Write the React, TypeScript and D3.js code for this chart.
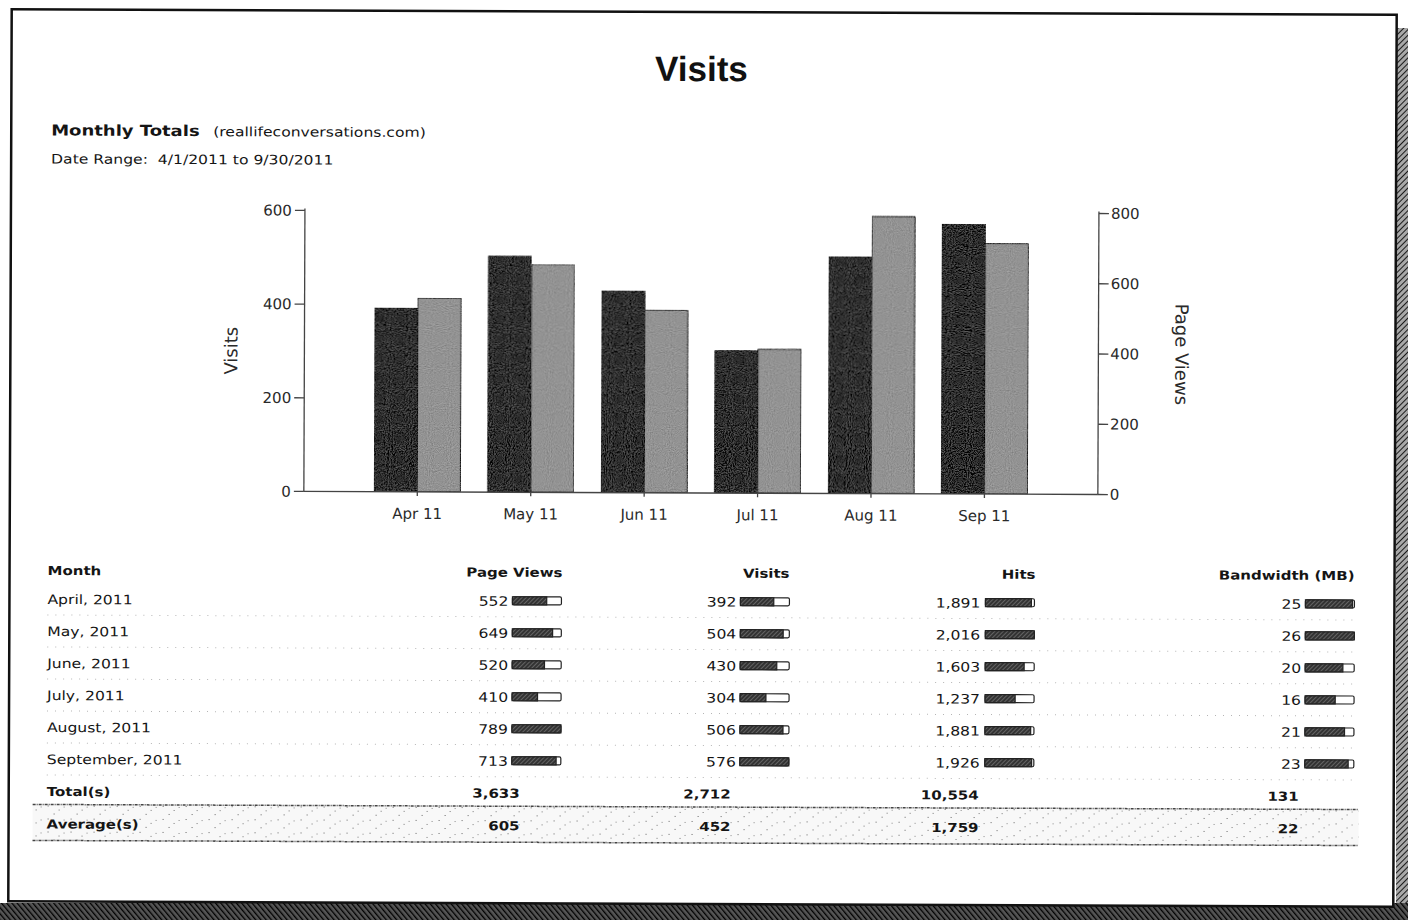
import React from 'react';
import * as d3 from 'd3';

// chart data
const months = ['Apr 11', 'May 11', 'Jun 11', 'Jul 11', 'Aug 11', 'Sep 11'];
const visits = [392, 504, 430, 304, 506, 576];
const pageViews = [552, 649, 520, 410, 789, 713];

// table data
const monthNames = ['April, 2011', 'May, 2011', 'June, 2011', 'July, 2011', 'August, 2011', 'September, 2011'];
const hits = [1891, 2016, 1603, 1237, 1881, 1926];
const bandwidth = [25, 26, 20, 16, 21, 23];
const columnNames = ['Page Views', 'Visits', 'Hits', 'Bandwidth (MB)'];
const averages = ['605', '452', '1,759', '22'];

const leftTicks = [0, 200, 400, 600];
const rightTicks = [0, 200, 400, 600, 800];

const W = 1408;
const H = 920;
const body = '"DejaVu Sans", Verdana, sans-serif';
const SX = 1.2;

const Txt = ({ x, y, children, anchor = 'start', size = 13, bold = false, sx = SX, fill = '#151515' }: any) => (
    <text transform={`translate(${x},${y}) scale(${sx},1)`} textAnchor={anchor} fontSize={size}
          fontWeight={bold ? 'bold' : 'normal'} fontFamily={body} fill={fill}>{children}</text>
);

export default function App() {
    const plot = { l: 304, r: 1098, t: 212, b: 493 };
    const barW = 43;

    const x = d3.scalePoint<string>().domain(months).range([plot.l, plot.r]).padding(1);
    const yL = d3.scaleLinear().domain([0, 600]).range([plot.b, plot.t]);
    const yR = d3.scaleLinear().domain([0, 800]).range([plot.b, plot.t]);

    // table layout
    const cols = [
        { values: pageViews, numRight: 509, barX: 513, headRight: 563, sumRight: 521 },
        { values: visits, numRight: 737, barX: 741, headRight: 790, sumRight: 732 },
        { values: hits, numRight: 981, barX: 986, headRight: 1036, sumRight: 980 },
        { values: bandwidth, numRight: 1302, barX: 1306, headRight: 1355, sumRight: 1300 },
    ];
    const miniW = 49;
    const miniH = 8;
    const headY = 577.5;
    const rowY0 = 606.5;
    const rowStep = 32;
    const totalY = rowY0 + rowStep * monthNames.length;
    const avgY = totalY + 32.5;
    const fmt = d3.format(',');

    return (
        <svg width={W} height={H} style={{ position: 'absolute', left: 0, top: 0, background: '#fff' }}>
            <defs>
                <pattern id="hatch" width="4" height="4" patternUnits="userSpaceOnUse" patternTransform="rotate(45)">
                    <rect width="4" height="4" fill="#a8a8a8"/>
                    <line x1="0" y1="0" x2="0" y2="4" stroke="#1a1a1a" strokeWidth="2"/>
                </pattern>
                <pattern id="hatchDark" width="4" height="4" patternUnits="userSpaceOnUse" patternTransform="rotate(-40)">
                    <rect width="4" height="4" fill="#555"/>
                    <line x1="0" y1="0" x2="0" y2="4" stroke="#000" strokeWidth="2.6"/>
                </pattern>
                <pattern id="mini" width="3" height="3" patternUnits="userSpaceOnUse" patternTransform="rotate(45)">
                    <rect width="3" height="3" fill="#333"/>
                    <line x1="0" y1="0" x2="0" y2="3" stroke="#aaa" strokeWidth="0.8"/>
                </pattern>
                <pattern id="speckle" width="23" height="13" patternUnits="userSpaceOnUse">
                    <rect width="23" height="13" fill="#f8f8f8"/>
                    <rect x="3" y="2" width="1" height="1" fill="#666"/>
                    <rect x="14" y="6" width="1" height="1" fill="#777"/>
                    <rect x="9" y="10" width="1" height="1" fill="#666"/>
                    <rect x="19" y="3" width="1" height="1" fill="#888"/>
                </pattern>
                <filter id="grain" x="0" y="0" width="1" height="1">
                    <feTurbulence type="fractalNoise" baseFrequency="0.95" numOctaves="1" seed="3" result="n"/>
                    <feColorMatrix in="n" type="matrix"
                                   values="0.33 0.33 0.33 0 0  0.33 0.33 0.33 0 0  0.33 0.33 0.33 0 0  0 0 0 0 1" result="g"/>
                    <feComposite in="SourceGraphic" in2="g" operator="arithmetic" k1="0" k2="1" k3="0.55" k4="-0.27" result="c"/>
                    <feComposite in="c" in2="SourceGraphic" operator="in"/>
                </filter>
            </defs>

            {/* scanner shadow */}
            <rect x={1396} y={28} width={12} height={H - 28} fill="url(#hatch)"/>
            <rect x={0} y={903} width={W} height={H - 903} fill="url(#hatchDark)"/>

            <g transform="rotate(0.22 703 456)">
                <rect x={10} y={12} width={1385} height={892} fill="#fff" stroke="#111" strokeWidth={2.5}/>

                <text x={700} y={81} textAnchor="middle" fontFamily='"Liberation Sans", Arial, sans-serif'
                      fontWeight="bold" fontSize={35} fill="#111">Visits</text>

                <Txt x={50} y={138} size={15} bold>Monthly Totals</Txt>
                <Txt x={212} y={138} size={13}>(reallifeconversations.com)</Txt>
                <Txt x={50} y={166} size={13}>{'Date Range:\u00a0 4/1/2011 to 9/30/2011'}</Txt>

                {/* bars */}
                <g stroke="#111" strokeWidth={1}>
                    {months.map((m, i) => (
                        <g key={m}>
                            <rect x={x(m)! - barW} y={yL(visits[i])} width={barW} height={plot.b - yL(visits[i])}
                                  fill="#2a2a2a" filter="url(#grain)"/>
                            <rect x={x(m)!} y={yR(pageViews[i])} width={barW} height={plot.b - yR(pageViews[i])}
                                  fill="#929292" filter="url(#grain)"/>
                        </g>
                    ))}
                </g>

                {/* axes */}
                <g stroke="#444" strokeWidth={1.3} fill="none">
                    <line x1={plot.l} x2={plot.l} y1={plot.t - 2} y2={plot.b}/>
                    <line x1={plot.r} x2={plot.r} y1={plot.t - 2} y2={plot.b}/>
                    <line x1={plot.l} x2={plot.r} y1={plot.b} y2={plot.b}/>
                    {leftTicks.map(t => <line key={t} x1={plot.l - 10} x2={plot.l} y1={yL(t)} y2={yL(t)}/>)}
                    {rightTicks.map(t => <line key={t} x1={plot.r} x2={plot.r + 10} y1={yR(t)} y2={yR(t)}/>)}
                    {months.map(m => <line key={m} x1={x(m)} x2={x(m)} y1={plot.b} y2={plot.b + 4}/>)}
                </g>
                <g fontFamily={body} fontSize={15} fill="#2a2a2a">
                    {leftTicks.map(t => (
                        <text key={t} x={plot.l - 13} y={yL(t)} dy="0.35em" textAnchor="end">{t}</text>
                    ))}
                    {rightTicks.map(t => (
                        <text key={t} x={plot.r + 12} y={yR(t)} dy="0.35em">{t}</text>
                    ))}
                    {months.map(m => (
                        <text key={m} x={x(m)} y={plot.b + 27} textAnchor="middle">{m}</text>
                    ))}
                    <text transform={`translate(237,${(plot.t + plot.b) / 2}) rotate(-90)`} textAnchor="middle"
                          fontSize={18}>Visits</text>
                    <text transform={`translate(1175,${(plot.t + plot.b) / 2}) rotate(90)`} textAnchor="middle"
                          fontSize={18}>Page Views</text>
                </g>

                {/* table */}
                <Txt x={48} y={headY} size={12.5} bold>Month</Txt>
                {columnNames.map((c, j) => (
                    <Txt key={c} x={cols[j].headRight} y={headY} size={12.5} bold anchor="end">{c}</Txt>
                ))}

                {monthNames.map((name, i) => {
                    const yy = rowY0 + i * rowStep;
                    return (
                        <g key={name}>
                            <line x1={48} x2={1356} y1={yy + 11} y2={yy + 11} stroke="#b5b5b5" strokeWidth={1}
                                  strokeDasharray="1 7"/>
                            <Txt x={48} y={yy}>{name}</Txt>
                            {cols.map((c, j) => {
                                const v = c.values[i];
                                const frac = v / d3.max(c.values)!;
                                return (
                                    <g key={j}>
                                        <Txt x={c.numRight} y={yy} anchor="end">{fmt(v)}</Txt>
                                        <rect x={c.barX} y={yy - 9} width={miniW} height={miniH} fill="#fff"
                                              stroke="#222" strokeWidth={1.2} rx={1.5}/>
                                        <rect x={c.barX} y={yy - 9} width={miniW * frac} height={miniH}
                                              fill="url(#mini)" stroke="#222" strokeWidth={1.2}/>
                                    </g>
                                );
                            })}
                        </g>
                    );
                })}

                <Txt x={48} y={totalY} size={12.5} bold>Total(s)</Txt>
                {cols.map((c, j) => (
                    <Txt key={j} x={c.sumRight} y={totalY} size={12.5} bold anchor="end">{fmt(d3.sum(c.values))}</Txt>
                ))}

                <rect x={34} y={avgY - 24} width={1326} height={36} fill="url(#speckle)"/>
                <line x1={34} x2={1360} y1={avgY - 24} y2={avgY - 24} stroke="#444" strokeWidth={1.5}
                      strokeDasharray="3 1 1 1"/>
                <line x1={34} x2={1360} y1={avgY + 12} y2={avgY + 12} stroke="#444" strokeWidth={1.5}
                      strokeDasharray="3 1 1 1"/>
                <Txt x={48} y={avgY} size={12.5} bold>Average(s)</Txt>
                {cols.map((c, j) => (
                    <Txt key={j} x={c.sumRight} y={avgY} size={12.5} bold anchor="end">{averages[j]}</Txt>
                ))}
            </g>
        </svg>
    );
}
